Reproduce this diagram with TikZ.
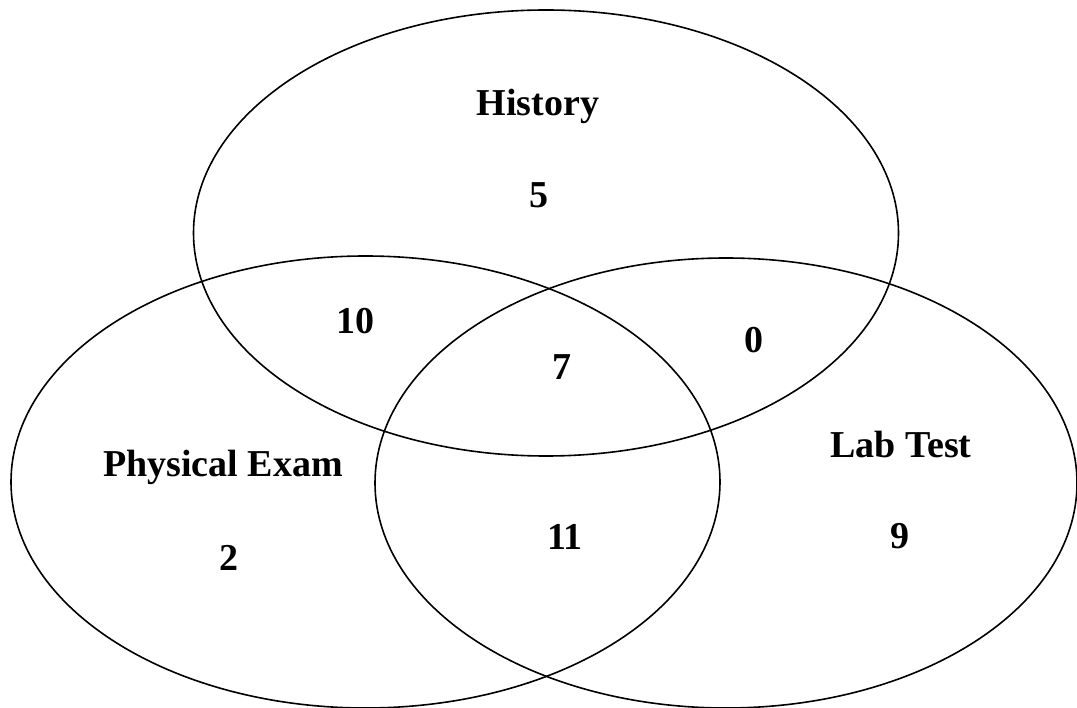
\documentclass[tikz,border=0pt]{standalone}
\usepackage{fontspec}
\setmainfont{Liberation Serif}
\usetikzlibrary{shapes.geometric}
\tikzset{
  setshape/.style={ellipse, draw, line width=1.6pt, inner sep=0pt, outer sep=0pt},
  lbl/.style={font=\fontsize{38}{40}\selectfont\bfseries, inner sep=0pt}
}
\begin{document}
\begin{tikzpicture}[x=1pt,y=-1pt]
\useasboundingbox (0,0) rectangle (1077,708);
\fill[white] (0,0) rectangle (1077,708);
\node[setshape, minimum width=705pt, minimum height=446pt] (hist) at (546,233) {};
\node[setshape, minimum width=709pt, minimum height=452pt] (phys) at (365.5,482) {};
\node[setshape, minimum width=702pt, minimum height=450pt] (lab) at (726,483) {};
\node[lbl] (thist) at (538,106) {History};
\node[lbl] (n5) at (539,195) {5};
\node[lbl] (n10) at (355,321) {10};
\node[lbl] (n7) at (562,367) {7};
\node[lbl] (n0) at (754,340) {0};
\node[lbl] (tphys) at (223,467) {Physical Exam};
\node[lbl] (tlab) at (901,445) {Lab Test};
\node[lbl] (n11) at (565,537) {11};
\node[lbl] (n2) at (229,558) {2};
\node[lbl] (n9) at (900,536) {9};
\end{tikzpicture}
\end{document}
